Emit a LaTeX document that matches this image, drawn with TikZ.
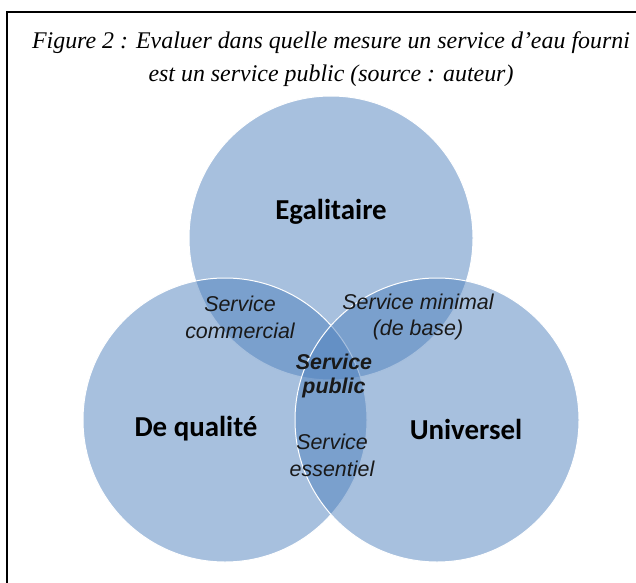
\documentclass[tikz,border=0pt]{standalone}
\usepackage{fontspec}
\setmainfont{Liberation Serif}
\setsansfont{Liberation Sans}
\newfontfamily\calibri{Carlito}
\usepackage{tikz}
\definecolor{vennblue}{RGB}{79,129,189}

\begin{document}
\begin{tikzpicture}[x=1bp, y=-1bp,
    venn/.style={circle, minimum size=284bp, inner sep=0pt, fill=vennblue, fill opacity=0.5, draw=white, draw opacity=1, line width=1bp},
    bigtxt/.style={font=\calibri\bfseries\fontsize{29}{34}\selectfont},
    smalltxt/.style={font=\sffamily\itshape\fontsize{21.5}{27}\selectfont, align=center, text=black!90}]
    \useasboundingbox (0,0) rectangle (636,583);

    % Frame
    \draw[line width=2bp] (7,590) -- (7,12) -- (640,12);

    % Title
    \node[font=\itshape\fontsize{24}{33}\selectfont, align=center] (titre) at (331,59)
        {Figure 2 : Evaluer dans quelle mesure un service d’eau fourni\\est un service public (source : auteur)};

    % Circles
    \node[venn] (egal) at (331,238) {};
    \node[venn] (qual) at (225,420) {};
    \node[venn] (univ) at (437,420) {};

    % Main labels
    \node[bigtxt] (legal) at (331,212) {Egalitaire};
    \node[bigtxt] (lqual) at (196,429) {De qualité};
    \node[bigtxt] (luniv) at (466,429) {Universel};

    % Overlaps
    \node[smalltxt] (lcomm) at (240,317) {Service\\commercial};
    \node[smalltxt] (lmini) at (418,317) {Service minimal\\(de base)};
    \node[smalltxt, font=\sffamily\bfseries\itshape\fontsize{21.5}{25}\selectfont] (lpub) at (334,376) {Service\\public};
    \node[smalltxt] (less) at (332,455) {Service\\essentiel};
\end{tikzpicture}
\end{document}
